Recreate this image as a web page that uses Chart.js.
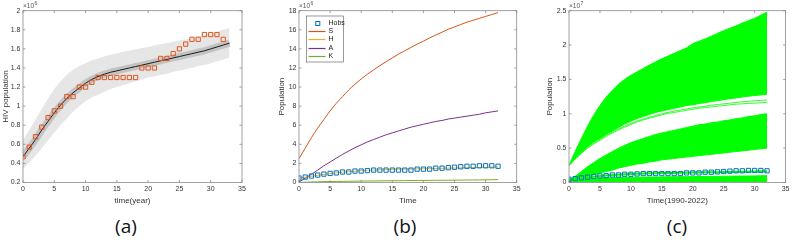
<!DOCTYPE html>
<html>
<head>
<meta charset="utf-8">
<script src="https://cdn.jsdelivr.net/npm/chart.js@4.4.0/dist/chart.umd.min.js"></script>
<style>
  html, body { margin: 0; padding: 0; background: #fff; }
  body { width: 792px; height: 242px; position: relative; overflow: hidden; }
  .panel { position: absolute; top: 0; width: 264px; height: 210px; }
  .tag { position: absolute; top: 213px; line-height: 26px; transform: translateX(-50%);
         font-family: "Open Sans", "Noto Sans", sans-serif; font-size: 19px; color: #111; }
</style>
</head>
<body>
<div class="panel" style="left:0px"><canvas id="chartA" width="264" height="210"></canvas></div>
<div class="panel" style="left:264px"><canvas id="chartB" width="264" height="210"></canvas></div>
<div class="panel" style="left:528px"><canvas id="chartC" width="264" height="210"></canvas></div>
<div class="tag" style="left:126px">(a)</div>
<div class="tag" style="left:405px">(b)</div>
<div class="tag" style="left:677px">(c)</div>
<script>
// Data block (populations in units of 10^6)
const years = [0,1,2,3,4,5,6,7,8,9,10,11,12,13,14,15,16,17,18,19,20,21,22,23,24,25,26,27,28,29,30,31,32];
const fitYears = [0,1,2,3,4,5,6,7,8,9,10,11,12,13,14,15,16,17,18,19,20,21,22,23,24,25,26,27,28,29,30,31,32,33];
const xTicks = [0, 5, 10, 15, 20, 25, 30, 35];

// Observed HIV population
const hivObs = [0.47,0.57,0.68,0.78,0.88,0.95,1.0,1.1,1.1,1.2,1.2,1.25,1.3,1.3,1.3,1.3,1.3,1.3,1.3,1.4,1.4,1.4,1.5,1.5,1.55,1.6,1.65,1.7,1.7,1.75,1.75,1.75,1.7];
// Fitted curve and its band
const hivFit = [0.47,0.56,0.65,0.75,0.84,0.93,1.01,1.08,1.14,1.19,1.24,1.28,1.31,1.335,1.355,1.37,1.385,1.40,1.415,1.43,1.445,1.46,1.475,1.49,1.505,1.52,1.535,1.55,1.565,1.58,1.60,1.62,1.64,1.66];
const fitUpper = [0.64,0.75,0.86,0.97,1.08,1.18,1.26,1.33,1.38,1.42,1.45,1.48,1.50,1.52,1.54,1.555,1.57,1.58,1.595,1.61,1.62,1.635,1.65,1.66,1.675,1.69,1.70,1.715,1.73,1.745,1.76,1.78,1.80,1.815];
const fitLower = [0.34,0.41,0.48,0.56,0.64,0.72,0.80,0.87,0.94,1.0,1.05,1.09,1.12,1.15,1.18,1.20,1.22,1.24,1.26,1.28,1.30,1.31,1.33,1.34,1.36,1.37,1.39,1.40,1.42,1.43,1.45,1.47,1.49,1.51];

// Model compartments
const compS = [2.5,3.6,4.7,5.7,6.6,7.5,8.3,9.0,9.7,10.3,10.85,11.35,11.8,12.25,12.65,13.05,13.45,13.8,14.15,14.5,14.8,15.15,15.45,15.75,16.05,16.3,16.55,16.8,17.0,17.2,17.4,17.6,17.8];
const compH = [0.47,0.56,0.65,0.75,0.84,0.93,1.01,1.08,1.14,1.19,1.24,1.28,1.31,1.335,1.355,1.37,1.385,1.40,1.415,1.43,1.445,1.46,1.475,1.49,1.505,1.52,1.535,1.55,1.565,1.58,1.60,1.62,1.64];
const compA = [0.05,0.45,0.85,1.3,1.75,2.15,2.55,2.95,3.3,3.65,3.95,4.25,4.5,4.75,5.0,5.2,5.4,5.6,5.8,5.95,6.1,6.25,6.4,6.5,6.65,6.75,6.85,6.95,7.05,7.15,7.3,7.4,7.5];
const compK = [0.0,0.03,0.05,0.07,0.09,0.1,0.11,0.12,0.13,0.14,0.15,0.16,0.165,0.17,0.18,0.185,0.19,0.2,0.205,0.21,0.215,0.22,0.23,0.235,0.24,0.245,0.25,0.26,0.265,0.27,0.28,0.29,0.3];

// Simulation envelopes for panel (c)
const simUpperTop = [2.5,4.5,6.4,8.2,9.8,11.2,12.4,13.4,14.3,15.0,15.6,16.1,16.6,17.1,17.55,18.0,18.4,18.8,19.2,19.6,20.2,20.55,20.9,21.3,21.7,22.1,22.45,22.8,23.2,23.55,23.9,24.35,24.8];
const simUpperBottom = [2.5,3.5,4.4,5.2,5.9,6.4,7.0,7.5,8.0,8.5,8.9,9.3,9.6,9.9,10.2,10.4,10.6,10.8,11.0,11.2,11.3,11.5,11.6,11.8,11.9,12.05,12.2,12.3,12.45,12.55,12.65,12.75,12.85];
const simStrayA = [2.5,3.4,4.25,5.0,5.6,6.15,6.7,7.2,7.65,8.05,8.45,8.8,9.1,9.35,9.6,9.85,10.05,10.2,10.35,10.5,10.65,10.8,10.9,11.0,11.1,11.2,11.3,11.4,11.45,11.5,11.55,11.6,11.65];
const simStrayB = [2.5,3.45,4.3,5.1,5.75,6.3,6.85,7.35,7.8,8.2,8.6,8.95,9.25,9.5,9.75,10.0,10.2,10.4,10.55,10.7,10.85,11.0,11.1,11.25,11.35,11.45,11.55,11.65,11.75,11.8,11.9,11.95,12.0];
const simMidTop = [0.3,0.9,1.6,2.3,2.9,3.5,4.0,4.5,5.0,5.4,5.8,6.1,6.4,6.7,7.0,7.2,7.4,7.6,7.8,8.0,8.2,8.4,8.5,8.7,8.8,9.0,9.1,9.3,9.4,9.6,9.7,9.9,10.0];
const simMidBottom = [0.2,0.4,0.7,0.9,1.1,1.4,1.6,1.8,2.1,2.3,2.5,2.7,2.8,3.0,3.1,3.3,3.4,3.5,3.6,3.7,3.8,3.9,4.0,4.1,4.2,4.3,4.4,4.5,4.6,4.7,4.8,4.9,5.0];
const simLowTop = [0.0,0.3,0.45,0.55,0.6,0.65,0.68,0.7,0.72,0.74,0.76,0.77,0.78,0.79,0.8,0.81,0.82,0.83,0.84,0.85,0.86,0.87,0.88,0.89,0.9,0.91,0.92,0.93,0.94,0.95,0.96,0.98,1.0];

const FONT = '"Liberation Sans", Arial, sans-serif';
const pts = (xs, ys) => xs.map((x, i) => ({x: x, y: ys[i]}));

// MATLAB-like box, inward ticks, exponent label and legend
const matlabFrame = {
    id: 'matlabFrame',
    afterDatasetsDraw(chart, args, opts) {
        const {ctx, chartArea: a, scales} = chart;
        ctx.save();
        ctx.strokeStyle = '#8a8a8a';
        ctx.lineWidth = 0.8;
        ctx.strokeRect(a.left, a.top, a.right - a.left, a.bottom - a.top);
        const len = 2.5;
        ctx.beginPath();
        scales.x.ticks.forEach(t => {
            const px = scales.x.getPixelForValue(t.value);
            ctx.moveTo(px, a.bottom); ctx.lineTo(px, a.bottom - len);
            ctx.moveTo(px, a.top); ctx.lineTo(px, a.top + len);
        });
        scales.y.ticks.forEach(t => {
            const py = scales.y.getPixelForValue(t.value);
            ctx.moveTo(a.left, py); ctx.lineTo(a.left + len, py);
            ctx.moveTo(a.right, py); ctx.lineTo(a.right - len, py);
        });
        ctx.stroke();

        // exponent above the y axis
        ctx.fillStyle = '#555';
        ctx.font = '6.5px ' + FONT;
        ctx.textBaseline = 'alphabetic';
        ctx.fillText('\u00d710', a.left, a.top - 3);
        const w = ctx.measureText('\u00d710').width;
        ctx.font = '5px ' + FONT;
        ctx.fillText(opts.exponent, a.left + w + 0.5, a.top - 6);

        // boxed legend in the top-left corner
        if (opts.legend) {
            const bx = a.left + 7.5, by = a.top + 5.3, bw = 37, bh = 46;
            ctx.fillStyle = '#fff';
            ctx.fillRect(bx, by, bw, bh);
            ctx.strokeStyle = '#555';
            ctx.lineWidth = 0.6;
            ctx.strokeRect(bx, by, bw, bh);
            ctx.font = '7px ' + FONT;
            ctx.textBaseline = 'middle';
            chart.data.datasets.forEach((ds, i) => {
                const y = Math.round(by + 6.9 + i * 8.2) + 0.5;
                ctx.strokeStyle = ds.borderColor;
                ctx.lineWidth = 1.2;
                if (ds.showLine === false) {
                    ctx.lineWidth = 1;
                    ctx.strokeRect(bx + 9.3, y - 2, 4, 4);
                } else {
                    ctx.beginPath();
                    ctx.moveTo(bx + 2, y); ctx.lineTo(bx + 19, y);
                    ctx.stroke();
                }
                ctx.fillStyle = '#222';
                ctx.fillText(ds.label, bx + 22, y);
            });
        }
        ctx.restore();
    }
};

// Options builder shared by the three panels
function makeOptions(o) {
    return {
        responsive: false,
        animation: false,
        events: [],
        layout: { padding: { top: 10.7, right: o.padRight, bottom: 4.9, left: o.padLeft } },
        plugins: {
            legend: { display: false },
            tooltip: { enabled: false },
            matlabFrame: { exponent: o.exponent, legend: o.legend }
        },  // End plugins
        scales: {
            x: {
                type: 'linear', min: 0, max: 35,
                afterBuildTicks: s => { s.ticks = xTicks.map(v => ({value: v})); },
                afterFit: s => { s.height = 22.6; },
                grid: { display: false, drawTicks: false },
                border: { display: false },
                ticks: { padding: 2.5, color: '#333', font: { family: FONT, size: 7 } },
                title: { display: true, text: o.xTitle, padding: 0, color: '#333', font: { family: FONT, size: 8 } }
            },
            y: {
                type: 'linear', min: o.yMin, max: o.yMax,
                afterBuildTicks: s => { s.ticks = o.yTicks.map(v => ({value: v})); },
                afterFit: s => { s.width = o.yWidth; },
                grid: { display: false, drawTicks: false },
                border: { display: false },
                ticks: { padding: 2.5, color: '#333', font: { family: FONT, size: 7 }, callback: o.yFormat },
                title: { display: true, text: o.yTitle, padding: 0, color: '#333', font: { family: FONT, size: 8 } }
            }
        }  // End scales
    };
}

const squares = (label, xs, ys, color) => ({
    label: label, data: pts(xs, ys), showLine: false,
    pointStyle: 'rect', pointRadius: 3, pointBorderWidth: 1,
    borderColor: color, pointBorderColor: color, pointBackgroundColor: 'rgba(0,0,0,0)'
});
const line = (label, xs, ys, color, width, fill) => ({
    label: label, data: pts(xs, ys), borderColor: color, backgroundColor: color,
    borderWidth: width, pointRadius: 0, fill: fill || false, cubicInterpolationMode: 'monotone'
});

// Panel (a)
new Chart(document.getElementById('chartA'), {
    type: 'line',
    data: { datasets: [
        squares('Hobs', years, hivObs, '#E2561C'),
        line('fit', fitYears, hivFit, '#1a1a1a', 1),
        line('fit band', fitYears, hivFit, '#c3c3c3', 7),
        Object.assign(line('upper', fitYears, fitUpper, '#e6e6e6', 0, '+1'), { backgroundColor: '#e6e6e6' }),
        line('lower', fitYears, fitLower, '#e6e6e6', 0)
    ] },
    options: makeOptions({
        padLeft: 1, padRight: 22, yWidth: 22, exponent: '6', legend: false,
        yMin: 0.2, yMax: 2, yTicks: [0.2,0.4,0.6,0.8,1,1.2,1.4,1.6,1.8,2],
        yFormat: v => String(+v.toFixed(1)),
        xTitle: 'time(year)', yTitle: 'HIV population'
    }),
    plugins: [matlabFrame]
});

// Panel (b)
new Chart(document.getElementById('chartB'), {
    type: 'line',
    data: { datasets: [
        squares('Hobs', years, hivObs, '#0072BD'),
        line('S', years, compS, '#D95319', 1),
        line('H', years, compH, '#EDB120', 1),
        line('A', years, compA, '#7E2F8E', 1),
        line('K', years, compK, '#77AC30', 1)
    ] },
    options: makeOptions({
        padLeft: 12.6, padRight: 11.3, yWidth: 22.4, exponent: '6', legend: true,
        yMin: 0, yMax: 18, yTicks: [0,2,4,6,8,10,12,14,16,18],
        yFormat: v => String(v),
        xTitle: 'Time', yTitle: 'Population'
    }),
    plugins: [matlabFrame]
});

// Panel (c)
new Chart(document.getElementById('chartC'), {
    type: 'line',
    data: { datasets: [
        squares('Hobs', years, hivObs, '#0072BD'),
        line('H', years, compH, '#00FF00', 2),
        line('low', years, simLowTop, '#00FF00', 1, 'origin'),
        line('mid top', years, simMidTop, '#00FF00', 1, '+1'),
        line('mid bottom', years, simMidBottom, '#00FF00', 1),
        line('up top', years, simUpperTop, '#00FF00', 1, '+1'),
        line('up bottom', years, simUpperBottom, '#00FF00', 1),
        line('stray a', years, simStrayA, '#00FF00', 0.8),
        line('stray b', years, simStrayB, '#00FF00', 0.8)
    ] },
    options: makeOptions({
        padLeft: 16.9, padRight: 5.3, yWidth: 24.1, exponent: '7', legend: false,
        yMin: 0, yMax: 25, yTicks: [0,5,10,15,20,25],
        yFormat: v => String(v / 10),
        xTitle: 'Time(1990-2022)', yTitle: 'Population'
    }),
    plugins: [matlabFrame]
});
</script>
</body>
</html>
